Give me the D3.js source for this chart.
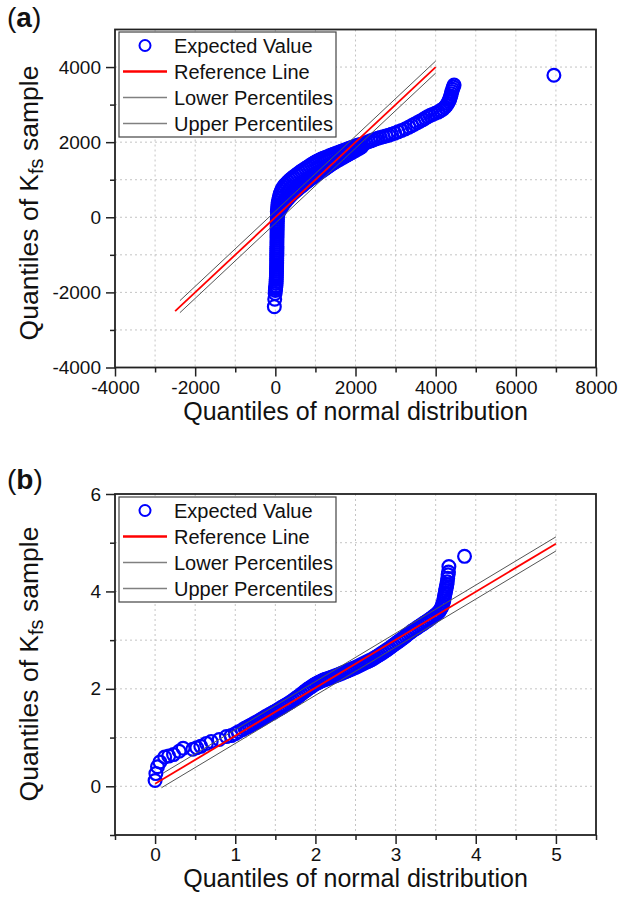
<!DOCTYPE html>
<html><head><meta charset="utf-8">
<script src="https://cdn.jsdelivr.net/npm/d3@7/dist/d3.min.js"></script>
<style>
body{margin:0;background:#fff}
svg{display:block}
text{font-family:"Liberation Sans",Arial,sans-serif;fill:#111}
</style>
</head><body>
<svg id="chart" width="630" height="912"></svg>
<script>
// ---------- data ----------
const legendLabels = ["Expected Value", "Reference Line", "Lower Percentiles", "Upper Percentiles"];
const xTitle = "Quantiles of normal distribution";

// panel (a)
const aXTicks = [-4000, -2000, 0, 2000, 4000, 6000, 8000];
const aXMinor = [-3000, -1000, 1000, 3000, 5000, 7000];
const aYTicks = [-4000, -2000, 0, 2000, 4000];
const aYMinor = [-3000, -1000, 1000, 3000];
const aXGrid = [-3000, -2000, -1000, 0, 1000, 2000, 3000, 4000, 5000, 6000, 7000];
const aYGrid = [-3000, -2000, -1000, 0, 1000, 2000, 3000, 4000];
const aRefLine = [[-2500, -2500], [4000, 4000]];
const aLowerLine = [[-2380, -2540], [4000, 3840]];
const aUpperLine = [[-2380, -2220], [4000, 4160]];
const aPoints = [
 [-25,-2380],[-15,-2180],[-5,-2030],[0,-1950],[5,-1900],[10,-1860],
 [15,-1820],[18,-1765],[20,-1710],[22,-1655],[25,-1600],[27,-1545],[28,-1490],[30,-1435],[30,-1380],[32,-1325],
 [33,-1270],[34,-1215],[35,-1160],[35,-1105],[36,-1050],[37,-995],[38,-940],[38,-885],[39,-830],[40,-775],
 [40,-720],[40,-665],[41,-610],[42,-555],[42,-500],[43,-445],[44,-390],[44,-335],[45,-280],[46,-225],
 [47,-170],[48,-115],[50,-60],[52,-5],[55,50],
 [60,90],[85,140],[110,190],[140,245],[170,300],[200,345],[230,390],[260,430],[290,470],[325,510],[360,550],
 [395,590],[430,625],[465,660],[500,695],[540,730],[580,765],[620,800],[660,835],[700,870],[740,905],[780,940],
 [820,975],[860,1010],[900,1040],[940,1070],[980,1100],[1020,1130],[1060,1160],[1100,1190],[1140,1220],
 [1180,1250],[1220,1280],[1260,1310],[1300,1340],[1340,1370],[1380,1400],[1420,1430],[1460,1455],[1500,1480],
 [1550,1510],[1600,1540],[1650,1570],[1700,1600],[1750,1630],[1800,1660],[1850,1690],[1900,1720],[1950,1750],
 [2000,1780],[2050,1810],[2100,1840],[2150,1870],
 [50,150],[55,210],[60,270],[65,330],[72,390],[82,450],[95,510],[110,570],[125,630],[145,690],[170,750],
 [200,805],[235,855],[275,900],[315,945],[360,990],[405,1030],[450,1070],[500,1110],[550,1150],[600,1190],
 [650,1230],[700,1265],[750,1300],[800,1335],[850,1370],[900,1405],[950,1440],[1000,1470],[1050,1500],
 [1100,1525],[1150,1550],[1200,1575],[1250,1595],[1300,1615],[1350,1635],[1400,1655],[1450,1675],[1500,1695],
 [1550,1715],[1600,1735],[1650,1755],[1700,1775],[1750,1795],[1800,1815],[1850,1835],[1900,1855],[1950,1875],
 [2000,1895],[2050,1915],[2100,1930],[2150,1945],
 [2200,1960],[2260,1985],[2320,2010],[2380,2035],[2440,2060],[2500,2085],[2560,2105],[2620,2125],[2690,2145],
 [2760,2165],[2830,2185],[2900,2210],[2980,2240],[3060,2275],[3150,2310],[3240,2350],[3330,2400],[3400,2440],
 [3470,2480],[3540,2520],[3610,2560],[3680,2600],[3740,2640],[3800,2680],[3860,2710],[3920,2740],[3990,2770],
 [4060,2800],[4120,2840],[4180,2880],[4230,2930],[4270,2980],[4300,3030],[4325,3080],[4345,3130],[4360,3180],
 [4375,3230],[4390,3290],[4405,3350],[4420,3410],[4440,3470],[4460,3520],
 [6950,3780]
];

// panel (b)
const bXTicks = [0, 1, 2, 3, 4, 5];
const bXMinor = [-0.5, 0.5, 1.5, 2.5, 3.5, 4.5, 5.5];
const bYTicks = [0, 2, 4, 6];
const bYMinor = [-1, 1, 3, 5];
const bXGrid = [0, 0.5, 1, 1.5, 2, 2.5, 3, 3.5, 4, 4.5, 5];
const bYGrid = [0, 1, 2, 3, 4, 5];
const bRefLine = [[0, 0.05], [5, 4.98]];
const bLowerLine = [[0.08, -0.03], [5, 4.83]];
const bUpperLine = [[0.1, 0.27], [5, 5.12]];
const bPoints = [
 [0.00,0.12],[0.01,0.26],[0.03,0.40],[0.06,0.50],[0.12,0.60],[0.17,0.62],[0.23,0.65],[0.30,0.72],[0.35,0.78],
 [0.47,0.76],[0.52,0.79],[0.57,0.82],[0.64,0.88],[0.70,0.92],[0.80,0.96],[0.89,1.02],[0.95,1.04],[1.00,1.08],
 [1.04,1.12],[1.09,1.16],[1.12,1.19],
 [1.150,1.215],[1.175,1.238],[1.200,1.260],[1.225,1.283],[1.250,1.305],[1.275,1.328],[1.300,1.350],[1.325,1.375],
 [1.350,1.400],[1.375,1.425],[1.400,1.450],[1.425,1.473],[1.450,1.495],[1.475,1.518],[1.500,1.540],[1.525,1.565],
 [1.550,1.590],[1.575,1.615],[1.600,1.640],[1.625,1.665],[1.650,1.690],[1.675,1.715],[1.700,1.740],[1.725,1.770],
 [1.750,1.800],[1.775,1.830],[1.800,1.860],[1.825,1.893],[1.850,1.925],[1.875,1.958],[1.900,1.990],[1.925,2.018],
 [1.950,2.045],[1.975,2.073],[2.000,2.100],[2.025,2.120],[2.050,2.140],[2.075,2.160],[2.100,2.180],[2.125,2.195],
 [2.150,2.210],[2.175,2.225],[2.200,2.240],[2.225,2.255],[2.250,2.270],[2.275,2.285],[2.300,2.300],[2.325,2.318],
 [2.350,2.335],[2.375,2.353],[2.400,2.370],[2.425,2.388],[2.450,2.405],[2.475,2.423],[2.500,2.440],[2.525,2.460],
 [2.550,2.480],[2.575,2.500],[2.600,2.520],[2.625,2.540],[2.650,2.560],[2.675,2.580],[2.700,2.600],[2.725,2.625],
 [2.750,2.650],[2.775,2.675],[2.800,2.700],[2.825,2.728],[2.850,2.755],[2.875,2.783],[2.900,2.810],[2.925,2.840],
 [2.950,2.870],[2.975,2.900],[3.000,2.930],[3.025,2.960],[3.050,2.990],[3.075,3.020],[3.100,3.050],[3.125,3.083],
 [3.150,3.115],[3.175,3.148],[3.200,3.180],[3.225,3.208],[3.250,3.235],[3.275,3.263],[3.300,3.290],[3.325,3.318],
 [3.350,3.345],[3.375,3.373],[3.400,3.400],[3.425,3.430],[3.450,3.460],[3.475,3.490],[3.500,3.520],[3.520,3.550],
 [3.540,3.580],[3.555,3.620],[3.570,3.660],[3.580,3.700],[3.590,3.750],[3.600,3.800],[3.605,3.850],[3.610,3.900],
 [3.615,3.940],[3.620,3.980],[3.625,4.020],[3.630,4.060],[3.635,4.100],[3.640,4.140],
 [3.645,4.200],[3.650,4.270],[3.655,4.340],[3.660,4.400],[3.665,4.510],
 [3.860,4.720]
];

// ---------- drawing ----------
const svg = d3.select("#chart");
svg.append("rect").attr("width", 630).attr("height", 912).attr("fill", "#fff");

const BLUE = "#0000ff", RED = "#ff0000", GRAY = "#555";
const FONT = "'Liberation Sans', Arial, sans-serif";

function panel(cfg) {
  const x = d3.scaleLinear().domain(cfg.xDomain).range([115, 596]);
  const y = d3.scaleLinear().domain(cfg.yDomain).range([cfg.bottom, cfg.top]);
  const g = svg.append("g");

  // grid
  g.append("g").selectAll("line").data(cfg.xGrid).join("line")
    .attr("x1", d => x(d)).attr("x2", d => x(d)).attr("y1", cfg.top).attr("y2", cfg.bottom)
    .attr("stroke", "#c4c4c4").attr("stroke-width", 1).attr("stroke-dasharray", "2,3");
  g.append("g").selectAll("line").data(cfg.yGrid).join("line")
    .attr("y1", d => y(d)).attr("y2", d => y(d)).attr("x1", 115).attr("x2", 596)
    .attr("stroke", "#c4c4c4").attr("stroke-width", 1).attr("stroke-dasharray", "2,3");

  // points (hollow circles)
  g.append("g").selectAll("circle").data(cfg.points).join("circle")
    .attr("cx", d => x(d[0])).attr("cy", d => y(d[1])).attr("r", 6.4)
    .attr("fill", "none").attr("stroke", BLUE).attr("stroke-width", 2.2);

  // lines
  const line = d3.line().x(d => x(d[0])).y(d => y(d[1]));
  [cfg.lower, cfg.upper].forEach(l => g.append("path").attr("d", line(l))
    .attr("fill", "none").attr("stroke", GRAY).attr("stroke-width", 1));
  g.append("path").attr("d", line(cfg.ref)).attr("fill", "none")
    .attr("stroke", RED).attr("stroke-width", 1.8);

  // legend
  const lg = g.append("g");
  lg.append("rect").attr("x", 119).attr("y", cfg.legTop).attr("width", 217).attr("height", 105)
    .attr("fill", "#fff").attr("stroke", "#444").attr("stroke-width", 1.2);
  legendLabels.forEach((lab, i) => {
    const cy = cfg.legTop + 13.5 + i * 26;
    if (i === 0) {
      lg.append("circle").attr("cx", 145).attr("cy", cy).attr("r", 5.5)
        .attr("fill", "#fff").attr("stroke", BLUE).attr("stroke-width", 2);
    } else {
      lg.append("line").attr("x1", 123).attr("x2", 167).attr("y1", cy).attr("y2", cy)
        .attr("stroke", i === 1 ? RED : "#808080").attr("stroke-width", i === 1 ? 2.5 : 1.5);
    }
    lg.append("text").attr("x", 174).attr("y", cy).attr("dy", "0.36em")
      .attr("font-size", 20).text(lab);
  });

  // axes
  const styleAxis = sel => {
    sel.select(".domain").remove();
    sel.selectAll("line").attr("stroke", "#222").attr("stroke-width", 1.5);
    sel.selectAll("text").attr("font-size", 19).attr("fill", "#111").style("font-family", FONT);
  };
  const fmt = d => String(d);
  g.append("g").attr("transform", `translate(0,${cfg.bottom})`)
    .call(d3.axisBottom(x).tickValues(cfg.xTicks).tickSize(9).tickPadding(4).tickFormat(fmt))
    .call(styleAxis);
  g.append("g").attr("transform", `translate(0,${cfg.bottom})`)
    .call(d3.axisBottom(x).tickValues(cfg.xMinor).tickSize(5).tickFormat(""))
    .call(styleAxis);
  g.append("g").attr("transform", `translate(115,0)`)
    .call(d3.axisLeft(y).tickValues(cfg.yTicks).tickSize(9).tickPadding(5).tickFormat(fmt))
    .call(styleAxis);
  g.append("g").attr("transform", `translate(115,0)`)
    .call(d3.axisLeft(y).tickValues(cfg.yMinor).tickSize(5).tickFormat(""))
    .call(styleAxis);

  // frame
  g.append("rect").attr("x", 115).attr("y", cfg.top).attr("width", 481).attr("height", cfg.bottom - cfg.top)
    .attr("fill", "none").attr("stroke", "#222").attr("stroke-width", 1.8);

  // titles
  g.append("text").attr("x", 355.5).attr("y", cfg.bottom + 52).attr("text-anchor", "middle")
    .attr("font-size", 25).text(xTitle);
  const yt = g.append("text").attr("transform", `translate(38,${cfg.yTitleY}) rotate(-90)`)
    .attr("text-anchor", "middle").attr("font-size", 26.5);
  yt.append("tspan").text("Quantiles of K");
  yt.append("tspan").attr("font-size", 20).attr("dy", 5).text("fs");
  yt.append("tspan").attr("dy", -5).text(" sample");

  const lab = g.append("text").attr("x", 7).attr("y", cfg.labelY).attr("font-size", 28);
  lab.append("tspan").text("(");
  lab.append("tspan").attr("font-weight", "bold").text(cfg.label);
  lab.append("tspan").text(")");
}

panel({
  xDomain: [-4000, 8000], yDomain: [-4000, 5000], top: 29.5, bottom: 367.5,
  xTicks: aXTicks, xMinor: aXMinor, yTicks: aYTicks, yMinor: aYMinor, xGrid: aXGrid, yGrid: aYGrid,
  points: aPoints, ref: aRefLine, lower: aLowerLine, upper: aUpperLine,
  legTop: 32, yTitleY: 203, labelY: 27, label: "a"
});
panel({
  xDomain: [-0.5, 5.5], yDomain: [-1, 6], top: 494, bottom: 835,
  xTicks: bXTicks, xMinor: bXMinor, yTicks: bYTicks, yMinor: bYMinor, xGrid: bXGrid, yGrid: bYGrid,
  points: bPoints, ref: bRefLine, lower: bLowerLine, upper: bUpperLine,
  legTop: 497, yTitleY: 664, labelY: 489, label: "b"
});
</script>
</body></html>
